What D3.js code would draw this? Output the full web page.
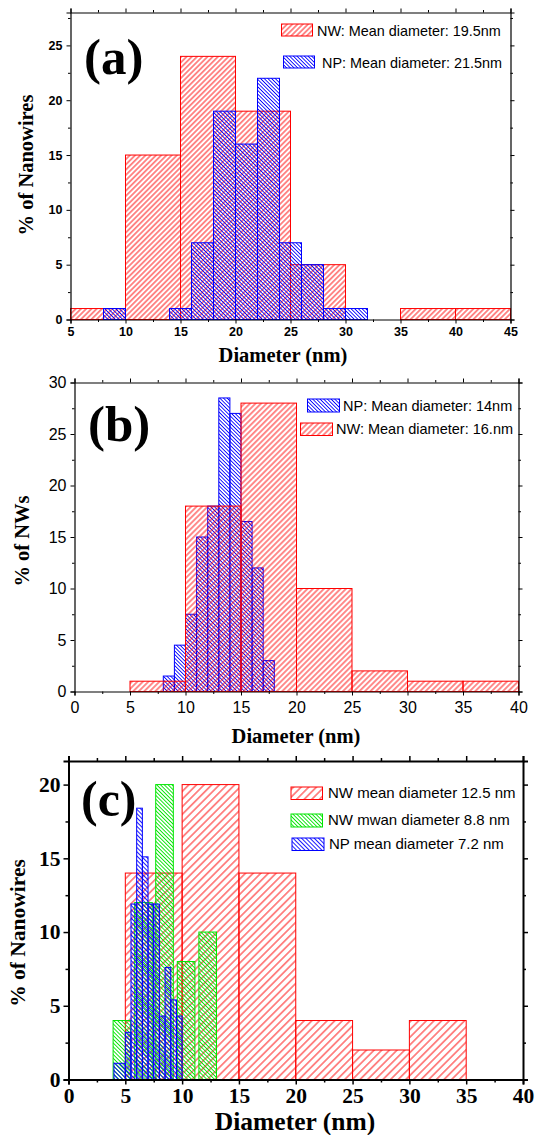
<!DOCTYPE html>
<html>
<head>
<meta charset="utf-8">
<script src="https://cdn.jsdelivr.net/npm/d3@7"></script>
<style>
  html, body { margin: 0; padding: 0; background: #fff; }
  svg { display: block; }
</style>
</head>
<body>
<svg id="fig" width="538" height="1135"></svg>
<script>
// ---------- Panel (a): nanowires vs nanoparticles ----------
const aNwStart = [5, 10, 15, 20, 25, 30, 35, 40];          // bin width 5 nm
const aNwPct   = [1, 15, 24, 19, 5, 0, 1, 1];
const aNpStart = [8, 10, 12, 14, 16, 18, 20, 22, 24, 26, 28, 30]; // bin width 2 nm
const aNpPct   = [1, 0, 0, 1, 7, 19, 16, 22, 7, 5, 1, 1];
const aXTicks  = [5, 10, 15, 20, 25, 30, 35, 40, 45];
const aYTicks  = [0, 5, 10, 15, 20, 25];

// ---------- Panel (b) ----------
const bNpStart = [8, 9, 10, 11, 12, 13, 14, 15, 16, 17];    // bin width 1 nm
const bNpPct   = [1.5, 4.5, 7.5, 15, 18, 28.5, 27, 16.5, 12, 3];
const bNwStart = [5, 10, 15, 20, 25, 30, 35];                // bin width 5 nm
const bNwPct   = [1, 18, 28, 10, 2, 1, 1];
const bXTicks  = [0, 5, 10, 15, 20, 25, 30, 35, 40];
const bYTicks  = [0, 5, 10, 15, 20, 25, 30];

// ---------- Panel (c) ----------
const cNwStart  = [5, 10, 15, 20, 25, 30];                   // bin width 5 nm
const cNwPct    = [14, 20, 14, 4, 2, 4];
const cNw2Center = [4.7, 6.6, 8.45, 10.35, 12.25];           // bar width 1.55 nm
const cNw2Pct    = [4, 12, 20, 8, 10];
const cNpEdges  = [4, 5, 5.5, 6, 6.5, 7, 7.5, 8, 8.5, 9, 9.5, 10];
const cNpPct    = [1.1, 3.2, 11.9, 18.4, 15.1, 11.9, 11.9, 4.3, 7.6, 5.4, 4.3];
const cXTicks   = [0, 5, 10, 15, 20, 25, 30, 35, 40];
const cYTicks   = [0, 5, 10, 15, 20];

const RED = "#ff0000", BLUE = "#0000ff", GREEN = "#00e600";
const SANS = "'Liberation Sans', Arial, sans-serif";
const SERIF = "'Liberation Serif', 'Times New Roman', serif";

const svg = d3.select("#fig");
svg.append("rect").attr("width", 538).attr("height", 1135).attr("fill", "#fff");
const defs = svg.append("defs");

// diagonal hatch: angle 45 gives "/", -45 gives "\"
function hatch(id, color, spacing, angle, width) {
  const p = defs.append("pattern")
    .attr("id", id)
    .attr("patternUnits", "userSpaceOnUse")
    .attr("width", spacing).attr("height", spacing)
    .attr("patternTransform", `rotate(${angle})`);
  p.append("line")
    .attr("x1", spacing / 2).attr("y1", -1)
    .attr("x2", spacing / 2).attr("y2", spacing + 1)
    .attr("stroke", color).attr("stroke-width", width);
}
hatch("aRed", RED, 3.7, 45, 0.9);
hatch("aBlue", BLUE, 2.6, -45, 0.9);
hatch("bRed", RED, 3.9, 45, 0.9);
hatch("bBlue", BLUE, 2.6, -45, 0.9);
hatch("cRed", RED, 5.4, 45, 0.9);
hatch("cGreen", GREEN, 2.7, -45, 0.9);
hatch("cBlue", BLUE, 3.0, -45, 0.9);

const fixed = (starts, width, vals) => starts.map((s, i) => [s, s + width, vals[i]]);
const fromEdges = (edges, vals) => vals.map((v, i) => [edges[i], edges[i + 1], v]);
const fromCenters = (centers, width, vals) => centers.map((c, i) => [c - width / 2, c + width / 2, vals[i]]);

function minorBetween(ticks) {
  const out = [];
  for (let i = 0; i < ticks.length - 1; i++) out.push((ticks[i] + ticks[i + 1]) / 2);
  return out;
}

function drawPanel(o) {
  const g = svg.append("g");
  const x = d3.scaleLinear().domain(o.xDomain).range([o.left, o.right]);
  const y = d3.scaleLinear().domain(o.yDomain).range([o.bottom, o.top]);

  // histogram bars
  o.series.forEach(s => {
    g.append("g").selectAll("rect")
      .data(s.bins.filter(d => d[2] > 0))
      .join("rect")
      .attr("x", d => x(d[0]))
      .attr("y", d => y(d[2]))
      .attr("width", d => x(d[1]) - x(d[0]))
      .attr("height", d => y(0) - y(d[2]))
      .attr("fill", `url(#${s.pattern})`)
      .attr("stroke", s.color)
      .attr("stroke-width", 1);
  });

  const xMinor = minorBetween(o.xTicks), yMinor = minorBetween(o.yTicks);
  const yTop = o.yDomain[1];
  const yMinorAll = yMinor.concat(o.yTicks[o.yTicks.length - 1] + 2.5 <= yTop ? [o.yTicks[o.yTicks.length - 1] + 2.5] : []);

  const axes = [
    { gen: d3.axisBottom(x), tr: `translate(0,${o.bottom})`, vals: o.xTicks, minor: xMinor, label: true },
    { gen: d3.axisTop(x), tr: `translate(0,${o.top})`, vals: o.xTicks, minor: xMinor, label: false },
    { gen: d3.axisLeft(y), tr: `translate(${o.left},0)`, vals: o.yTicks, minor: yMinorAll, label: true },
    { gen: d3.axisRight(y), tr: `translate(${o.right},0)`, vals: o.yTicks, minor: yMinorAll, label: false }
  ];
  axes.forEach((a, i) => {
    const major = a.gen.tickValues(a.vals).tickSizeOuter(0).tickSize(o.tickMajor)
      .tickPadding(o.tickPad[i % 2 === 0 ? (i === 0 ? 0 : 1) : (i === 1 ? 0 : 1)]);
    if (!a.label) major.tickFormat("");
    const ag = g.append("g").attr("transform", a.tr).call(major);
    ag.select(".domain").attr("stroke", "#000").attr("stroke-width", o.frameWidth);
    ag.selectAll(".tick line").attr("stroke", "#000").attr("stroke-width", o.tickWidth);
    ag.selectAll("text")
      .attr("font-family", o.tickFont)
      .attr("font-size", o.tickSize)
      .attr("font-weight", o.tickWeight)
      .attr("fill", "#000");
    const mg = g.append("g").attr("transform", a.tr)
      .call(a.gen.tickValues(a.minor).tickSize(o.tickMinor).tickFormat(""));
    mg.select(".domain").remove();
    mg.selectAll(".tick line").attr("stroke", "#000").attr("stroke-width", o.tickWidth);
  });

  // axis titles
  g.append("text")
    .attr("x", o.xTitle[0]).attr("y", o.xTitle[1])
    .attr("text-anchor", "middle")
    .attr("font-family", SERIF).attr("font-weight", "bold")
    .attr("font-size", o.xTitle[2])
    .text("Diameter (nm)");
  g.append("text")
    .attr("transform", `translate(${o.yTitle[0]},${o.yTitle[1]}) rotate(-90)`)
    .attr("text-anchor", "middle")
    .attr("font-family", SERIF).attr("font-weight", "bold")
    .attr("font-size", o.yTitle[2])
    .text(o.yTitleText);

  // panel tag
  g.append("text")
    .attr("x", o.tag[0]).attr("y", o.tag[1])
    .attr("font-family", SERIF).attr("font-weight", "bold")
    .attr("font-size", o.tag[2])
    .text(o.tagText);

  // legend
  o.legend.forEach(l => {
    g.append("rect")
      .attr("x", l.box[0]).attr("y", l.box[1])
      .attr("width", l.box[2]).attr("height", l.box[3])
      .attr("fill", `url(#${l.pattern})`)
      .attr("stroke", l.color).attr("stroke-width", 1);
    g.append("text")
      .attr("x", l.text[0]).attr("y", l.text[1])
      .attr("font-family", SANS).attr("font-size", o.legendSize)
      .attr("fill", "#000")
      .text(l.label);
  });
}

// (a)
drawPanel({
  xDomain: [5, 45], yDomain: [0, 28],
  left: 70.5, right: 510.5, top: 12.5, bottom: 319.5,
  xTicks: aXTicks, yTicks: aYTicks,
  series: [
    { bins: fixed(aNwStart, 5, aNwPct), color: RED, pattern: "aRed" },
    { bins: fixed(aNpStart, 2, aNpPct), color: BLUE, pattern: "aBlue" }
  ],
  tickMajor: 4, tickMinor: 2.5, tickPad: [4, 4], frameWidth: 1.2, tickWidth: 1,
  tickFont: SANS, tickSize: 12.5, tickWeight: "bold",
  xTitle: [283, 362, 20.5], yTitle: [33, 165, 20.5], yTitleText: "% of Nanowires",
  tag: [84, 74, 51], tagText: "(a)",
  legendSize: 14.4,
  legend: [
    { box: [281.5, 24, 31, 12], text: [317, 35.5], color: RED, pattern: "aRed", label: "NW: Mean diameter: 19.5nm" },
    { box: [283.5, 56, 31, 12], text: [322, 67.5], color: BLUE, pattern: "aBlue", label: "NP: Mean diameter: 21.5nm" }
  ]
});

// (b)
drawPanel({
  xDomain: [0, 40], yDomain: [0, 30],
  left: 74.5, right: 518.5, top: 382.5, bottom: 691.5,
  xTicks: bXTicks, yTicks: bYTicks,
  series: [
    { bins: fixed(bNpStart, 1, bNpPct), color: BLUE, pattern: "bBlue" },
    { bins: fixed(bNwStart, 5, bNwPct), color: RED, pattern: "bRed" }
  ],
  tickMajor: 4, tickMinor: 2.5, tickPad: [6, 4], frameWidth: 1.2, tickWidth: 1,
  tickFont: SANS, tickSize: 16, tickWeight: "normal",
  xTitle: [296, 743, 20.5], yTitle: [29, 541, 20.5], yTitleText: "% of NWs",
  tag: [88, 441, 51], tagText: "(b)",
  legendSize: 14.5,
  legend: [
    { box: [307.5, 399, 32, 13], text: [343, 411], color: BLUE, pattern: "bBlue", label: "NP: Mean diameter: 14nm" },
    { box: [300.5, 423, 32, 12.5], text: [336, 434], color: RED, pattern: "bRed", label: "NW: Mean diameter: 16.nm" }
  ]
});

// (c)
drawPanel({
  xDomain: [0, 40], yDomain: [0, 21.6],
  left: 68.5, right: 523, top: 761, bottom: 1079.5,
  xTicks: cXTicks, yTicks: cYTicks,
  series: [
    { bins: fixed(cNwStart, 5, cNwPct), color: RED, pattern: "cRed" },
    { bins: fromCenters(cNw2Center, 1.55, cNw2Pct), color: GREEN, pattern: "cGreen" },
    { bins: fromEdges(cNpEdges, cNpPct), color: BLUE, pattern: "cBlue" }
  ],
  tickMajor: 5, tickMinor: 3, tickPad: [3, 3], frameWidth: 2, tickWidth: 1.5,
  tickFont: SERIF, tickSize: 21.5, tickWeight: "bold",
  xTitle: [295, 1130, 25.5], yTitle: [25, 933, 21.5], yTitleText: "% of Nanowires",
  tag: [81, 816, 50], tagText: "(c)",
  legendSize: 15,
  legend: [
    { box: [291, 787, 31.5, 12.5], text: [328, 798], color: RED, pattern: "cRed", label: "NW mean diameter 12.5 nm" },
    { box: [291, 814, 31.5, 13], text: [328, 825], color: GREEN, pattern: "cGreen", label: "NW mwan diameter 8.8 nm" },
    { box: [292, 838, 32, 12.5], text: [329, 849], color: BLUE, pattern: "cBlue", label: "NP mean diameter 7.2 nm" }
  ]
});
</script>
</body>
</html>
